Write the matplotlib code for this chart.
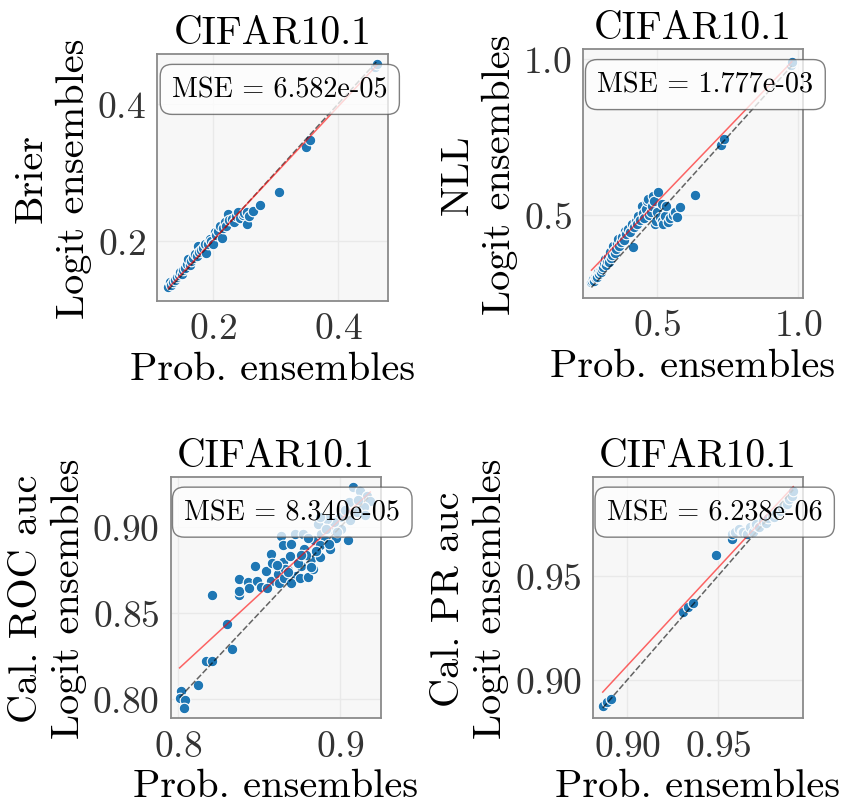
import numpy as np
import matplotlib
matplotlib.use("Agg")
import matplotlib.pyplot as plt

plt.rcParams['font.family'] = 'serif'
plt.rcParams['font.serif'] = ['cmr10']
plt.rcParams['mathtext.fontset'] = 'cm'
plt.rcParams['axes.unicode_minus'] = False
plt.rcParams['axes.formatter.use_mathtext'] = True

# ---- data ----
title = "CIFAR10.1"
metrics = ["Brier", "NLL", "Cal. ROC auc", "Cal. PR auc"]
mse_text = ["6.582e-05", "1.777e-03", "8.340e-05", "6.238e-06"]

brier_x = [0.128, 0.131, 0.133, 0.136, 0.138, 0.142, 0.145, 0.147, 0.150, 0.152, 0.155, 0.158,
           0.160, 0.163, 0.165, 0.168, 0.171, 0.174, 0.176, 0.178, 0.181, 0.184, 0.187, 0.189,
           0.192, 0.195, 0.197, 0.200, 0.203, 0.205, 0.208, 0.211, 0.214, 0.216, 0.219, 0.221,
           0.224, 0.226, 0.230, 0.233, 0.236, 0.240, 0.243, 0.247, 0.250, 0.254, 0.254, 0.258,
           0.264, 0.275, 0.305, 0.348, 0.355, 0.459, 0.462]
brier_y = [0.132, 0.140, 0.136, 0.140, 0.143, 0.147, 0.150, 0.154, 0.152, 0.158, 0.160, 0.166,
           0.173, 0.165, 0.170, 0.175, 0.181, 0.178, 0.192, 0.183, 0.186, 0.189, 0.195, 0.182,
           0.196, 0.203, 0.199, 0.195, 0.213, 0.208, 0.214, 0.222, 0.204, 0.218, 0.227, 0.221,
           0.239, 0.230, 0.232, 0.227, 0.236, 0.242, 0.234, 0.238, 0.240, 0.242, 0.224, 0.236,
           0.243, 0.252, 0.271, 0.337, 0.348, 0.454, 0.458]

nll_x = [0.268, 0.270, 0.274, 0.276, 0.280, 0.283, 0.286, 0.289, 0.292, 0.295, 0.298, 0.301,
         0.304, 0.307, 0.310, 0.313, 0.316, 0.319, 0.322, 0.326, 0.329, 0.333, 0.336, 0.340,
         0.345, 0.348, 0.352, 0.356, 0.360, 0.363, 0.367, 0.372, 0.378, 0.382, 0.387, 0.392,
         0.398, 0.403, 0.410, 0.416, 0.420, 0.425, 0.430, 0.434, 0.440, 0.446, 0.450, 0.455,
         0.460, 0.465, 0.469, 0.472, 0.478, 0.481, 0.485, 0.490, 0.493, 0.497, 0.499, 0.505,
         0.510, 0.517, 0.517, 0.522, 0.528, 0.534, 0.540, 0.548, 0.556, 0.564, 0.572, 0.582,
         0.635, 0.727, 0.738, 0.975, 0.978]
nll_y = [0.284, 0.290, 0.295, 0.288, 0.300, 0.297, 0.308, 0.302, 0.316, 0.310, 0.322, 0.318,
         0.338, 0.328, 0.334, 0.345, 0.359, 0.340, 0.352, 0.365, 0.350, 0.380, 0.362, 0.372,
         0.402, 0.385, 0.378, 0.392, 0.410, 0.423, 0.400, 0.415, 0.430, 0.420, 0.450, 0.438,
         0.455, 0.445, 0.471, 0.396, 0.460, 0.480, 0.470, 0.498, 0.485, 0.530, 0.505, 0.490,
         0.520, 0.545, 0.551, 0.500, 0.510, 0.530, 0.560, 0.545, 0.471, 0.480, 0.509, 0.573,
         0.495, 0.482, 0.535, 0.470, 0.498, 0.530, 0.477, 0.490, 0.500, 0.509, 0.495, 0.525,
         0.565, 0.724, 0.744, 0.982, 0.989]

roc_x = [0.802, 0.801, 0.8045, 0.804, 0.8123, 0.8175, 0.8212, 0.821, 0.8302, 0.8335, 0.8375,
         0.8375, 0.8377, 0.8432, 0.844, 0.8477, 0.849, 0.851, 0.8545, 0.8572, 0.8576, 0.855,
         0.8617, 0.8638, 0.8646, 0.8646, 0.8626, 0.8656, 0.870, 0.8693, 0.872, 0.8725, 0.870,
         0.8679, 0.8761, 0.8772, 0.878, 0.8751, 0.8803, 0.8823, 0.884, 0.8833, 0.8874, 0.8885,
         0.8905, 0.8936, 0.8957, 0.8977, 0.9008, 0.905, 0.8874, 0.8803, 0.9082, 0.9123, 0.9165,
         0.9186, 0.9145, 0.9103, 0.9052, 0.9021, 0.900, 0.896, 0.8918, 0.8866, 0.8876, 0.906,
         0.9155, 0.898, 0.866, 0.874, 0.879, 0.858, 0.885, 0.861, 0.868, 0.876, 0.882, 0.891,
         0.893, 0.911, 0.903]
roc_y = [0.8046, 0.801, 0.7994, 0.795, 0.8081, 0.8223, 0.822, 0.8607, 0.8439, 0.8294, 0.8607,
         0.870, 0.863, 0.868, 0.8645, 0.8777, 0.869, 0.865, 0.8748, 0.8845, 0.869, 0.8645,
         0.873, 0.8948, 0.8895, 0.880, 0.8674, 0.8703, 0.8905, 0.883, 0.896, 0.8716, 0.8674,
         0.875, 0.8777, 0.896, 0.8872, 0.8703, 0.871, 0.8815, 0.8925, 0.8757, 0.8825, 0.896,
         0.8925, 0.8872, 0.8989, 0.894, 0.8989, 0.8928, 0.8895, 0.8935, 0.9232, 0.9212, 0.9183,
         0.9154, 0.9115, 0.9087, 0.9145, 0.9106, 0.9058, 0.903, 0.905, 0.902, 0.906, 0.904,
         0.907, 0.897, 0.876, 0.879, 0.884, 0.879, 0.886, 0.878, 0.874, 0.884, 0.877, 0.899,
         0.890, 0.916, 0.910]

pr_x = [0.8865, 0.8890, 0.8909, 0.9308, 0.9335, 0.9359, 0.9487, 0.9575, 0.9577, 0.9590, 0.9614,
        0.9628, 0.9634, 0.9656, 0.9674, 0.9692, 0.9700, 0.9710, 0.9725, 0.9747, 0.9760, 0.9775,
        0.9793, 0.9805, 0.9820, 0.9839, 0.9850, 0.9862, 0.9876, 0.9890, 0.9903, 0.9912]
pr_y = [0.8877, 0.8895, 0.8909, 0.9327, 0.9350, 0.9369, 0.9600, 0.9676, 0.9700, 0.9708, 0.9724,
        0.9707, 0.9711, 0.9700, 0.9733, 0.9708, 0.9740, 0.9749, 0.9735, 0.9763, 0.9750, 0.9778,
        0.9788, 0.9780, 0.9800, 0.9811, 0.9825, 0.9838, 0.9843, 0.9865, 0.9883, 0.9907]

# red fit lines (slope, intercept)
fits = [(0.975, 0.006), (0.9405, 0.0712), (0.869, 0.1222), (0.9406, 0.0603)]

xlims = [(0.110, 0.480), (0.238, 1.018), (0.7955, 0.925), (0.8813, 0.9964)]
ylims = [(0.112, 0.473), (0.234, 1.032), (0.789, 0.929), (0.8816, 0.9971)]
xticks = [[0.2, 0.4], [0.5, 1.0], [0.8, 0.9], [0.90, 0.95]]
yticks = [[0.2, 0.4], [0.5, 1.0], [0.80, 0.85, 0.90], [0.90, 0.95]]

data = [(brier_x, brier_y), (nll_x, nll_y), (roc_x, roc_y), (pr_x, pr_y)]

# axes boxes in figure fractions
positions = [[0.1865, 0.6244, 0.2743, 0.3072],
             [0.6924, 0.6281, 0.2613, 0.3097],
             [0.2027, 0.1054, 0.2494, 0.2997],
             [0.7046, 0.1054, 0.2487, 0.2997]]

fig = plt.figure(figsize=(8.42, 8.04), dpi=100)

for i in range(4):
    ax = fig.add_axes(positions[i])
    x = np.array(data[i][0])
    y = np.array(data[i][1])
    ax.set_facecolor('#f7f7f7')
    ax.grid(True, color='#e9e9e9', lw=1)
    ax.set_axisbelow(True)
    for sp in ax.spines.values():
        sp.set_color('#8a8a8a')
        sp.set_linewidth(1.3)

    ax.scatter(x, y, s=58, color='#1f77b4', edgecolor='white', linewidth=0.8, zorder=2)
    lo, hi = x.min(), x.max()
    ax.plot([lo, hi], [lo, hi], color='black', ls='--', dashes=(4, 1.5), lw=1.1, alpha=0.6, zorder=3)
    a, b = fits[i]
    ax.plot([lo, hi], [a * lo + b, a * hi + b], color='red', lw=1.1, alpha=0.6, zorder=3)

    ax.text(0.065, 0.91, "MSE = " + mse_text[i], transform=ax.transAxes, fontsize=20.3,
            va='top', ha='left', zorder=5,
            bbox=dict(boxstyle='round,pad=0.42', facecolor='white', alpha=0.75, edgecolor='#555555'))

    ax.set_xlim(xlims[i])
    ax.set_ylim(ylims[i])
    ax.set_xticks(xticks[i])
    ax.set_yticks(yticks[i])
    ax.tick_params(length=0, pad=8, labelsize=27, labelcolor='#333333')
    ax.set_title(title, fontsize=28.5, pad=8)
    ax.set_xlabel("Prob. ensembles", fontsize=29)
    ax.set_ylabel(metrics[i] + "\nLogit ensembles", fontsize=29)

fig.savefig("out.png", dpi=100)
